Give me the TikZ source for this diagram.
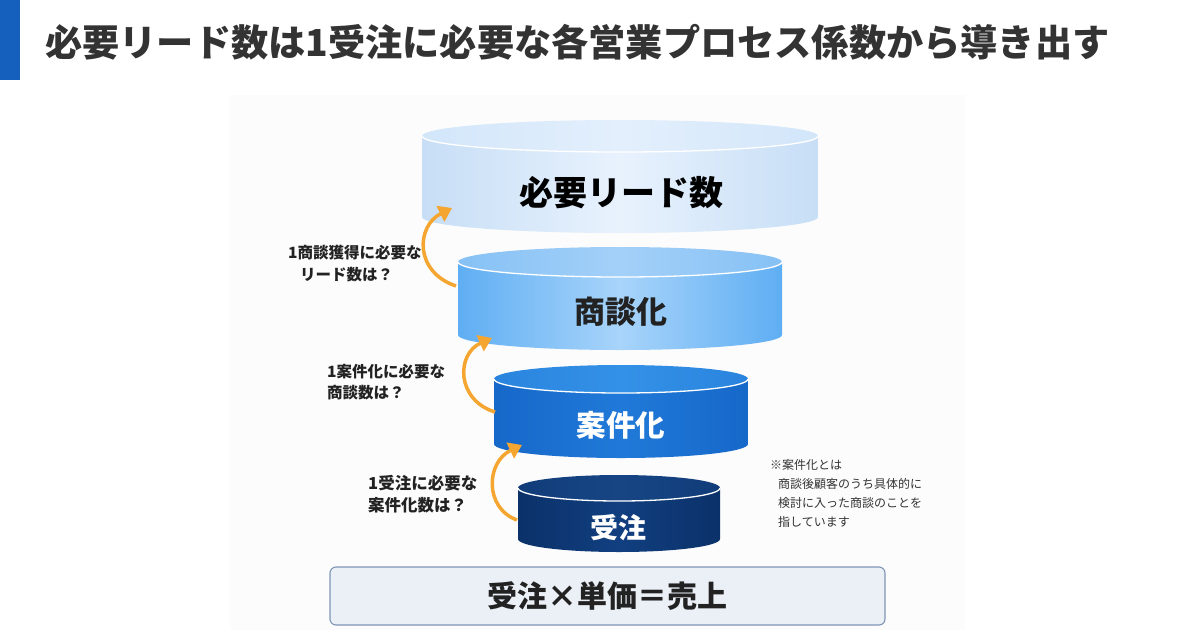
\documentclass[tikz,border=0pt]{standalone}
\usepackage{fontspec}
\setmainfont{Noto Sans CJK JP}
\usetikzlibrary{arrows.meta}
\definecolor{barblue}{HTML}{1560BD}
\definecolor{titlegray}{HTML}{333333}
\definecolor{panelbg}{HTML}{FCFCFC}
\definecolor{arroworange}{HTML}{F4A630}
\definecolor{cAedge}{HTML}{C7DEF6}\definecolor{cAmid}{HTML}{E8F2FD}
\definecolor{cAtopE}{HTML}{D2E6FA}\definecolor{cAtopM}{HTML}{E3EFFC}
\definecolor{cBedge}{HTML}{5FAEF3}\definecolor{cBmid}{HTML}{A8D4FA}
\definecolor{cBtopE}{HTML}{86C1F5}\definecolor{cBtopM}{HTML}{A3D0F8}
\definecolor{cCedge}{HTML}{1668C9}\definecolor{cCmid}{HTML}{2079D8}
\definecolor{cCtopE}{HTML}{2A84DE}\definecolor{cCtopM}{HTML}{3391E6}
\definecolor{cDedge}{HTML}{0B3169}\definecolor{cDmid}{HTML}{113F80}
\definecolor{cDtopE}{HTML}{113C7A}\definecolor{cDtopM}{HTML}{174584}
\definecolor{boxfill}{HTML}{EBF0F7}
\definecolor{boxline}{HTML}{7F95B5}
\definecolor{labeltext}{HTML}{222222}
\newcommand{\mycyl}[9]{%
  \shade[left color=#6, right color=#6, middle color=#7]
    (#1-#2,#3) -- (#1-#2,#4) arc[start angle=180,end angle=360,x radius=#2pt,y radius=#5pt] -- (#1+#2,#3) -- cycle;
  \shade[left color=#8, right color=#8, middle color=#9] (#1,#3) ellipse [x radius=#2pt, y radius=#5pt];
  \draw[white, line width=1.3pt] (#1-#2,#3) arc[start angle=180,end angle=360,x radius=#2pt,y radius=#5pt];
}
\tikzset{
  orangearrow/.style={draw=arroworange, line width=3.5pt, -{Triangle[length=13pt,width=17pt]}},
  sidelabel/.style={anchor=west, inner sep=0pt, font=\bfseries\fontsize{15.5pt}{18pt}\selectfont, text=labeltext},
  notelabel/.style={anchor=west, inner sep=0pt, font=\fontsize{12pt}{14pt}\selectfont, text=titlegray},
  cyltext/.style={inner sep=0pt, font=\bfseries\fontsize{#1}{#1}\selectfont}
}
\begin{document}
\begin{tikzpicture}[x=1pt,y=1pt]
\useasboundingbox (0,0) rectangle (1200,-630);
\fill[white] (0,0) rectangle (1200,-630);
\fill[panelbg] (230,-95) rectangle (965,-630);
\fill[barblue] (0,0) rectangle (20,-80);
\node[anchor=west, inner sep=0pt, text=titlegray, font=\bfseries\fontsize{37.2pt}{40pt}\selectfont] (title) at (45,-42) {必要リード数は1受注に必要な各営業プロセス係数から導き出す};

% cylinders
\mycyl{620}{198}{-136}{-217}{16}{cAedge}{cAmid}{cAtopE}{cAtopM}
\mycyl{620}{162}{-262}{-335}{15}{cBedge}{cBmid}{cBtopE}{cBtopM}
\mycyl{621}{127}{-379}{-444}{14}{cCedge}{cCmid}{cCtopE}{cCtopM}
\mycyl{619}{101}{-488}{-539}{13}{cDedge}{cDmid}{cDtopE}{cDtopM}

\node[cyltext=34pt, text=black] (leads) at (621,-193) {必要リード数};
\node[cyltext=31pt, text=labeltext] (shodan) at (621,-312) {商談化};
\node[cyltext=29.5pt, text=white] (anken) at (621,-425) {案件化};
\node[cyltext=28pt, text=white] (juchu) at (618,-528) {受注};

% arrows
\coordinate (t1) at (456,-286); \coordinate (h1) at (452,-208);
\coordinate (t2) at (495,-412); \coordinate (h2) at (492,-338);
\coordinate (t3) at (517,-520); \coordinate (h3) at (522,-445);
\draw[orangearrow] (t1) .. controls (414,-272) and (416,-226) .. (h1);
\draw[orangearrow] (t2) .. controls (456,-400) and (456,-354) .. (h2);
\draw[orangearrow] (t3) .. controls (484,-508) and (486,-462) .. (h3);

% side labels
\node[sidelabel] (l1a) at (288,-253) {1商談獲得に必要な};
\node[sidelabel] (l1b) at (300,-275) {リード数は？};
\node[sidelabel] (l2a) at (327,-372) {1案件化に必要な};
\node[sidelabel] (l2b) at (327,-393) {商談数は？};
\node[sidelabel, font=\bfseries\fontsize{16.5pt}{19pt}\selectfont] (l3a) at (368,-483) {1受注に必要な};
\node[sidelabel, font=\bfseries\fontsize{16.5pt}{19pt}\selectfont] (l3b) at (368,-505) {案件化数は？};

% note
\node[notelabel] (n1) at (770,-465) {※案件化とは};
\node[notelabel] (n2) at (778,-484) {商談後顧客のうち具体的に};
\node[notelabel] (n3) at (778,-503) {検討に入った商談のことを};
\node[notelabel] (n4) at (778,-522) {指しています};

% bottom formula box
\node[draw=boxline, line width=1.1pt, fill=boxfill, rounded corners=6pt, minimum width=555pt, minimum height=58pt, inner sep=0pt, font=\bfseries\fontsize{30pt}{32pt}\selectfont, text=labeltext] (formula) at (607.5,-596) {受注×単価＝売上};
\end{tikzpicture}
\end{document}
